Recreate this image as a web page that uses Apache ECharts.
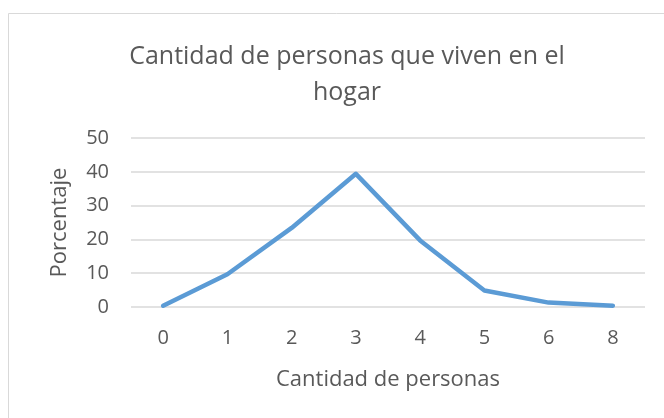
<!DOCTYPE html>
<html>
<head>
<meta charset="utf-8">
<script src="https://cdn.jsdelivr.net/npm/echarts@6/dist/echarts.min.js"></script>
<style>
  html, body { margin: 0; padding: 0; background: #fff; }
  #chart { width: 664px; height: 418px; }
</style>
</head>
<body>
<div id="chart"></div>
<script>
// datos del gráfico
const categorias = ['0', '1', '2', '3', '4', '5', '6', '8'];
const porcentajes = [0.4, 9.7, 23.4, 39.4, 19.7, 4.9, 1.3, 0.4];
const ticksY = [0, 10, 20, 30, 40, 50];

const textColor = '#595959';
const fontFam = '"Open Sans", "Noto Sans", sans-serif';

const chart = echarts.init(document.getElementById('chart'));

const option = {
    animation: false,
    backgroundColor: '#fff',
    graphic: [
        {
            type: 'rect',
            shape: { x: 8.5, y: 13.5, width: 700, height: 500 },
            style: { fill: 'none', stroke: '#D9D9D9', lineWidth: 1 },
            silent: true
        }
    ],
    title: {
        text: 'Cantidad de personas que viven en el\nhogar',
        left: 342,
        top: 34,
        textAlign: 'center',
        textStyle: {
            color: textColor,
            fontFamily: fontFam,
            fontWeight: 'normal',
            fontSize: 25,
            lineHeight: 36
        }
    },
    grid: {
        left: 131,
        right: 19,
        top: 138,
        bottom: 111
    },
    xAxis: {
        type: 'category',
        data: categorias,
        boundaryGap: true,
        name: 'Cantidad de personas',
        nameLocation: 'middle',
        nameGap: 62,
        nameTextStyle: { color: textColor, fontFamily: fontFam, fontSize: 22 },
        axisLine: { show: false },
        axisTick: { show: false },
        axisLabel: { color: textColor, fontFamily: fontFam, fontSize: 20, margin: 21 }
    },
    yAxis: {
        type: 'value',
        min: ticksY[0],
        max: ticksY[ticksY.length - 1],
        interval: 10,
        name: 'Porcentaje',
        nameLocation: 'middle',
        nameGap: 60,
        nameRotate: 90,
        nameTextStyle: { color: textColor, fontFamily: fontFam, fontSize: 22 },
        axisLine: { show: false },
        axisTick: { show: false },
        axisLabel: { color: textColor, fontFamily: fontFam, fontSize: 20, margin: 22 },
        splitLine: { lineStyle: { color: '#D9D9D9', width: 1.5 } }
    },
    series: [
        {
            type: 'line',
            data: porcentajes,
            showSymbol: false,
            lineStyle: { color: '#5B9BD5', width: 4.5, cap: 'round', join: 'round' }
        }
    ]
};

chart.setOption(option);
</script>
</body>
</html>
